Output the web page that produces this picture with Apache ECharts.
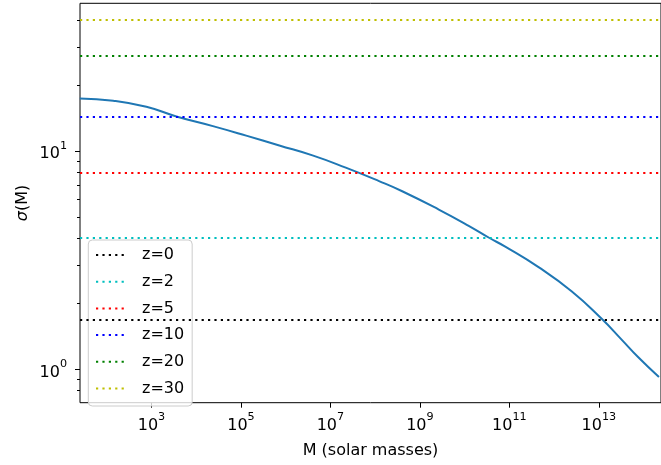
<!DOCTYPE html>
<html>
<head>
<meta charset="utf-8">
<script src="https://cdn.jsdelivr.net/npm/echarts@6/dist/echarts.min.js"></script>
<style>
  html, body { margin: 0; padding: 0; background: #ffffff; }
  #chart { width: 661px; height: 465px; }
</style>
</head>
<body>
<div id="chart"></div>
<script>
// rms mass fluctuation sigma(M) versus halo mass (solar masses)
const massValues = [25, 140, 770, 3.6e3, 2.36e4, 1.31e5, 7.2e5, 3.97e6, 2.2e7, 1.22e8,
  4.02e8, 2.64e9, 1.23e10, 3.43e10, 8.07e10, 4.48e11, 2.45e12, 1.14e13, 3.18e13, 7.5e13, 2.2e14];
const sigmaValues = [17.45, 17.03, 15.97, 14.42, 13.02, 11.78, 10.62, 9.56, 8.40, 7.29,
  6.55, 5.40, 4.55, 4.02, 3.65, 2.94, 2.28, 1.71, 1.373, 1.139, 0.922];

// collapse thresholds delta_c / D(z) at each redshift
const redshiftLabels = ['z=0', 'z=2', 'z=5', 'z=10', 'z=20', 'z=30'];
const thresholdValues = [1.69, 4.0, 7.93, 14.4, 27.3, 40.2];
const thresholdColors = ['#000000', '#00bfbf', '#ff0000', '#0000ff', '#008000', '#bfbf00'];

// axis ticks and limits
const xTickValues = [1e3, 1e5, 1e7, 1e9, 1e11, 1e13];
const yTickValues = [1, 10];
const yMinorTickValues = [0.8, 0.9, 2, 3, 4, 5, 6, 7, 8, 9, 20, 30, 40];
const xLimits = [Math.pow(10, 1.403), Math.pow(10, 14.388)];
const yLimits = [Math.pow(10, -0.1528), Math.pow(10, 1.6775)];

const FONT = 'DejaVu Sans';

function powerLabel(v) {
  return '{b|10}{s|' + Math.round(Math.log10(v)) + '}';
}
const powerRich = {
  b: { fontFamily: FONT, fontSize: 16, color: '#000', lineHeight: 22, verticalAlign: 'bottom' },
  s: { fontFamily: FONT, fontSize: 11.2, color: '#000', lineHeight: 11, verticalAlign: 'top' }
};

const chart = echarts.init(document.getElementById('chart'), null, { renderer: 'canvas' });

const dotted = [2.2, 4.2];

const series = [{
  name: 'sigma',
  type: 'line',
  data: massValues.map((m, i) => [m, sigmaValues[i]]),
  showSymbol: false,
  symbol: 'none',
  smooth: 0.5,
  lineStyle: { color: '#1f77b4', width: 2 },
  itemStyle: { color: '#1f77b4' },
  z: 3,
  silent: true
}];

redshiftLabels.forEach((label, i) => {
  series.push({
    name: label,
    type: 'line',
    data: [],
    symbol: 'none',
    lineStyle: { color: thresholdColors[i], width: 2.2, type: dotted },
    itemStyle: { color: thresholdColors[i] },
    markLine: {
      silent: true,
      symbol: 'none',
      label: { show: false },
      lineStyle: { color: thresholdColors[i], width: 2.2, type: dotted },
      data: [{ yAxis: thresholdValues[i] }]
    },
    z: 2
  });
});

chart.setOption({
  animation: false,
  backgroundColor: '#ffffff',
  textStyle: { fontFamily: FONT },
  grid: {
    left: 80, top: 3.3, right: -2, bottom: 62.3,
    show: true, borderColor: '#000000', borderWidth: 1, backgroundColor: 'transparent'
  },
  legend: {
    data: redshiftLabels,
    orient: 'vertical',
    left: 88.3,
    top: 240,
    padding: [7, 8, 9.5, 6.7],
    itemWidth: 28,
    itemHeight: 14,
    itemGap: 10.7,
    itemStyle: { opacity: 0 },
    backgroundColor: 'rgba(255,255,255,0.8)',
    borderColor: '#cccccc',
    borderWidth: 1,
    borderRadius: 4,
    textStyle: { fontFamily: FONT, fontSize: 16, lineHeight: 14, color: '#000000', padding: [0, 0, 0, 13] }
  },
  xAxis: {
    type: 'log',
    logBase: 10,
    min: xLimits[0],
    max: xLimits[1],
    name: 'M (solar masses)',
    nameLocation: 'middle',
    nameGap: 40,
    nameMoveOverlap: false,
    nameTextStyle: { fontFamily: FONT, fontSize: 16, color: '#000' },
    axisLine: { show: false },
    axisTick: { show: true, inside: false, length: 5, customValues: xTickValues,
      lineStyle: { color: '#000', width: 1 } },
    axisLabel: { show: true, margin: 20, verticalAlign: 'middle', customValues: xTickValues,
      formatter: powerLabel, rich: powerRich },
    splitLine: { show: false },
    minorTick: { show: false }
  },
  yAxis: [{
    type: 'log',
    logBase: 10,
    position: 'left',
    min: yLimits[0],
    max: yLimits[1],
    name: '{i|σ}(M)',
    nameLocation: 'middle',
    nameRotate: 90,
    nameGap: 49,
    nameMoveOverlap: false,
    nameTextStyle: { fontFamily: FONT, fontSize: 16, color: '#000',
      rich: { i: { fontFamily: FONT, fontSize: 16, fontStyle: 'italic', color: '#000' } } },
    axisLine: { show: false },
    axisTick: { show: true, length: 5, customValues: yTickValues,
      lineStyle: { color: '#000', width: 1 } },
    axisLabel: { show: true, margin: 13, customValues: yTickValues, formatter: powerLabel, rich: powerRich },
    splitLine: { show: false }
  }, {
    type: 'log',
    logBase: 10,
    position: 'left',
    min: yLimits[0],
    max: yLimits[1],
    axisLine: { show: false },
    axisTick: { show: true, length: 3, customValues: yMinorTickValues,
      lineStyle: { color: '#000', width: 1 } },
    axisLabel: { show: false },
    splitLine: { show: false }
  }],
  series: series
});
</script>
</body>
</html>
